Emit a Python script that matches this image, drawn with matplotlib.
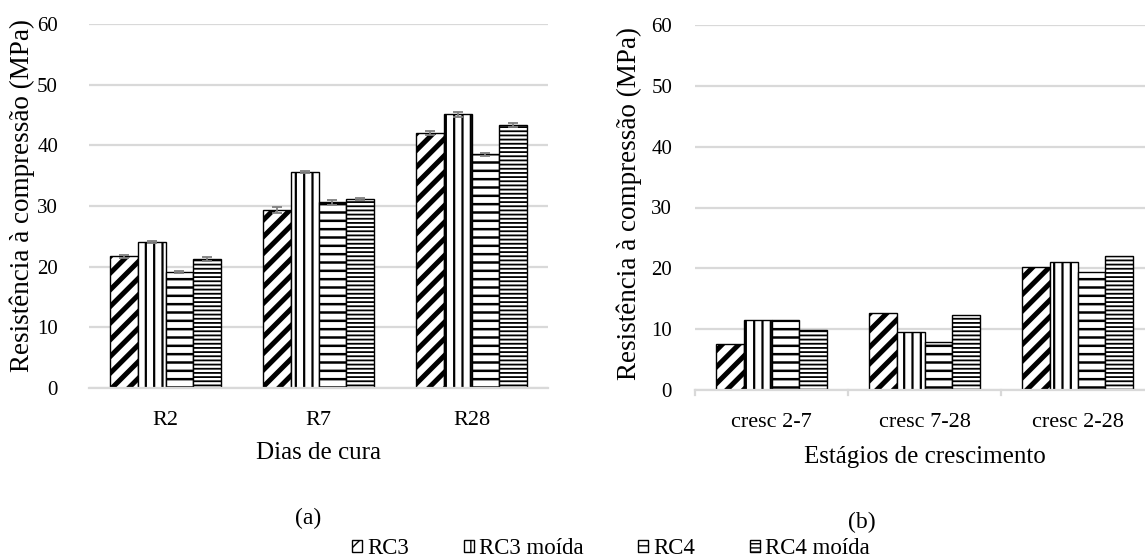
import matplotlib
matplotlib.use("Agg")
import matplotlib.pyplot as plt
import numpy as np

plt.rcParams['font.family'] = ['Liberation Serif', 'DejaVu Serif']

# Compressive strength by curing age (MPa)
cure_days = ['R2', 'R7', 'R28']
rc3 = [21.7, 29.3, 42.0]
rc3_moida = [24.05, 35.6, 45.15]
rc4 = [19.1, 30.6, 38.5]
rc4_moida = [21.25, 31.1, 43.35]

# Standard deviations for the strength bars
rc3_err = [0.2, 0.5, 0.3]
rc3_moida_err = [0.2, 0.2, 0.4]
rc4_err = [0.2, 0.45, 0.2]
rc4_moida_err = [0.3, 0.15, 0.25]

# Strength gain between ages (MPa)
stages = ['cresc 2-7', 'cresc 7-28', 'cresc 2-28']
gain_rc3 = [7.6, 12.7, 20.3]
gain_rc3_moida = [11.55, 9.6, 21.1]
gain_rc4 = [11.5, 7.9, 19.4]
gain_rc4_moida = [9.85, 12.25, 22.1]

series_names = ['RC3', 'RC3 moída', 'RC4', 'RC4 moída']
hatches = ['//', '||', '--', '----']
hatch_lw = [3.6, 1.6, 1.8, 1.3]

W, H = 1145, 560
fig = plt.figure(figsize=(W / 100, H / 100), dpi=100)


def px_axes(x0, x1, ytop, ybot):
    return fig.add_axes([x0 / W, 1 - ybot / H, (x1 - x0) / W, (ybot - ytop) / H])


ax1 = px_axes(89, 548, 24, 388)
ax2 = px_axes(695, 1154, 25, 390)

grid_color = '#d9d9d9'
err_color = '#7f7f7f'
bar_w = 0.183


def style_axis(ax, cats, xlabel, ypad, xpad, lpad, ticks_out):
    ax.set_ylim(0, 60)
    ax.set_yticks(np.arange(0, 61, 10))
    ax.set_xlim(-0.5, len(cats) - 0.5)
    ax.set_xticks(np.arange(len(cats)))
    ax.set_xticklabels(cats)
    ax.yaxis.grid(True, color=grid_color, linewidth=1.6, zorder=0)
    ax.set_axisbelow(True)
    for s in ['top', 'right', 'left']:
        ax.spines[s].set_visible(False)
    ax.spines['bottom'].set_color(grid_color)
    ax.spines['bottom'].set_linewidth(1.6)
    ax.tick_params(axis='y', length=0, pad=ypad, labelsize=15)
    ax.tick_params(axis='x', length=0, pad=xpad, labelsize=16)
    if ticks_out:
        for xb in np.arange(-0.5, len(cats), 1.0):
            ax.plot([xb, xb], [0, -0.9], color=grid_color, lw=1.6,
                    clip_on=False, zorder=1)
    ax.set_xlabel(xlabel, fontsize=18, labelpad=lpad)
    ax.set_ylabel('Resistência à compressão (MPa)', fontsize=19.5)


def draw_bars(ax, groups, errs=None):
    x = np.arange(len(groups[0]))
    handles = []
    for i, vals in enumerate(groups):
        offs = (i - 1.5) * bar_w
        bars = ax.bar(x + offs, vals, width=bar_w, color='white',
                      edgecolor='black', linewidth=1.0, hatch=hatches[i],
                      zorder=2, label=series_names[i])
        for b in bars:
            if hasattr(b, 'set_hatch_linewidth'):
                b.set_hatch_linewidth(hatch_lw[i])
        if errs is not None:
            ax.errorbar(x + offs, vals, yerr=errs[i], fmt='none',
                        ecolor=err_color, elinewidth=1.3, capsize=3.5,
                        capthick=1.3, zorder=3)
        handles.append(bars)
    return handles


with plt.rc_context({'hatch.linewidth': 1.6}):
    handles = draw_bars(ax1, [rc3, rc3_moida, rc4, rc4_moida],
                        [rc3_err, rc3_moida_err, rc4_err, rc4_moida_err])
    draw_bars(ax2, [gain_rc3, gain_rc3_moida, gain_rc4, gain_rc4_moida])

style_axis(ax1, cure_days, 'Dias de cura', 22.3, 16.5, 8.5, False)
style_axis(ax2, stages, 'Estágios de crescimento', 16.5, 16.5, 10, True)
ax1.yaxis.set_label_coords(-0.1176, 0.53)
ax2.yaxis.set_label_coords(-0.1155, 0.51)

fig.text(308 / W, 1 - 518 / H, '(a)', ha='center', va='center', fontsize=17)
fig.text(862 / W, 1 - 522 / H, '(b)', ha='center', va='center', fontsize=17)

leg = fig.legend(handles, series_names, loc='center left', ncol=4,
                 bbox_to_anchor=(352 / W, 1 - 549 / H), frameon=False,
                 fontsize=16.5, handlelength=0.45, handleheight=0.45,
                 handletextpad=0.2, columnspacing=2.4,
                 borderpad=0, borderaxespad=0)

fig.savefig('out.png', dpi=100)
